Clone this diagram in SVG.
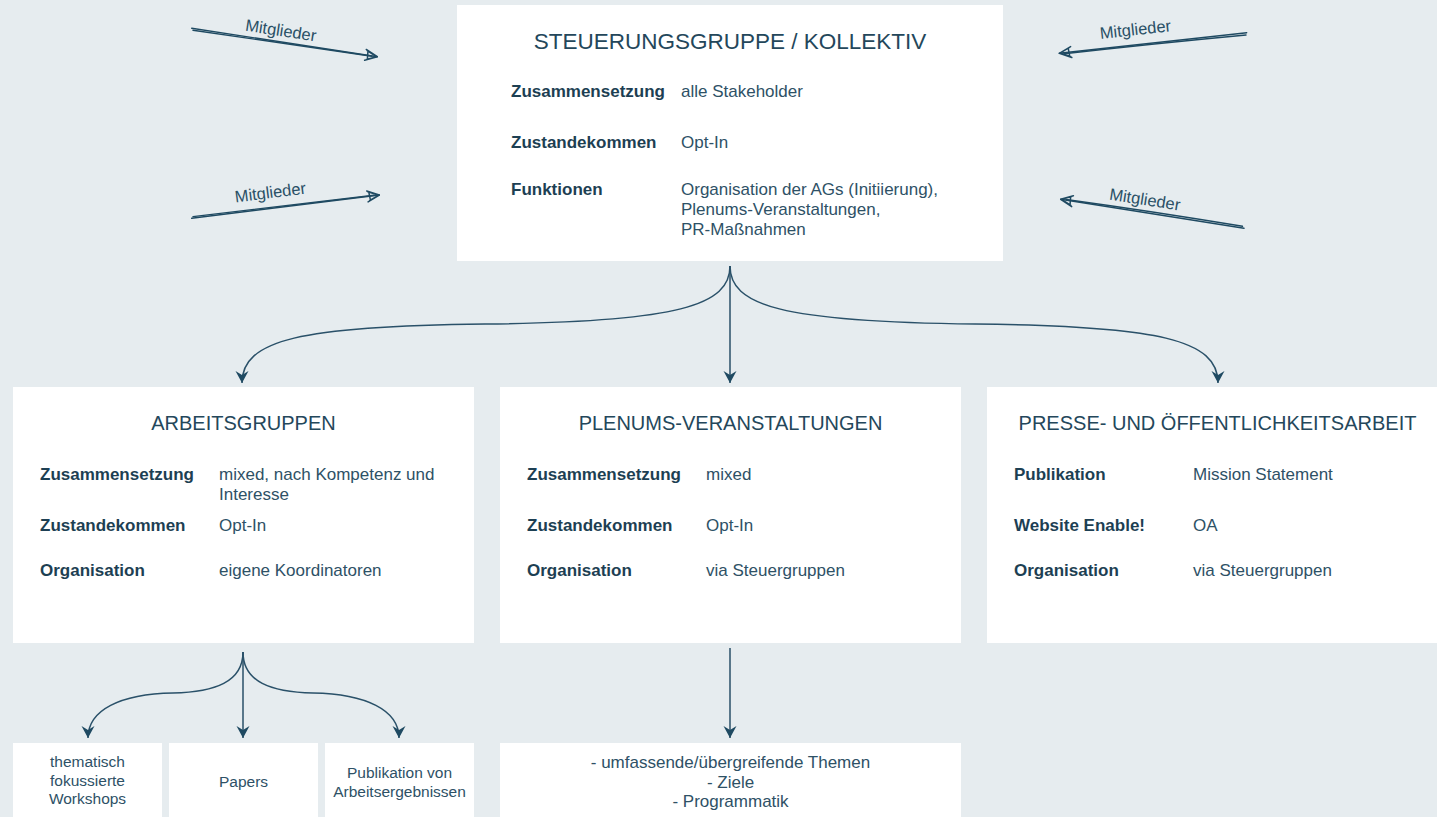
<svg xmlns="http://www.w3.org/2000/svg" width="1437" height="817" viewBox="0 0 1437 817">
<style>
text{font-family:"Liberation Sans",Arial,sans-serif;}
.box{fill:#ffffff;}
.title{font-size:20px;fill:#24475b;text-anchor:middle;}
.ttl-big{font-size:22.5px;fill:#24475b;text-anchor:middle;}
.lab{font-size:17px;font-weight:bold;fill:#1d3f53;}
.val{font-size:17px;fill:#2e5166;}
.small{font-size:15.5px;fill:#2e5166;text-anchor:middle;}
.mid{font-size:17px;fill:#2e5166;text-anchor:middle;}
.conn{fill:none;stroke:#2a5169;stroke-width:1.5;}
.sk{fill:none;stroke:#1f4a62;stroke-width:1.4;stroke-linecap:round;}
.mg{font-size:16.5px;fill:#2a5066;}
</style>
<defs>
<marker id="ah" markerUnits="userSpaceOnUse" markerWidth="14" markerHeight="14" refX="12" refY="6.5" orient="auto">
<path d="M0,0 L12,6.5 L0,13 L4,6.5 z" fill="#1f4a62"/>
</marker>
<marker id="open" markerUnits="userSpaceOnUse" markerWidth="16" markerHeight="16" refX="13" refY="7" orient="auto" overflow="visible">
<path d="M1,1.5 L13,7 L1,12.5 M2,2.5 L12.5,7.2 L2.5,11.5 M3,4 L3.5,10" fill="none" stroke="#1f4a62" stroke-width="1.5" stroke-linecap="round" stroke-linejoin="round"/>
</marker>
</defs>
<rect width="1437" height="817" fill="#e6ecef"/>

<g id="steuerungsgruppe">
<rect class="box" x="457" y="5" width="546" height="256"/>
<text class="ttl-big" x="730" y="49">STEUERUNGSGRUPPE / KOLLEKTIV</text>
<text class="lab" x="511" y="97">Zusammensetzung</text>
<text class="val" x="681" y="97">alle Stakeholder</text>
<text class="lab" x="511" y="148">Zustandekommen</text>
<text class="val" x="681" y="148">Opt-In</text>
<text class="lab" x="511" y="195">Funktionen</text>
<text class="val" x="681" y="195">Organisation der AGs (Initiierung),</text>
<text class="val" x="681" y="215">Plenums-Veranstaltungen,</text>
<text class="val" x="681" y="235">PR-Maßnahmen</text>
</g>

<g id="arbeitsgruppen">
<rect class="box" x="13" y="387" width="461" height="256"/>
<text class="title" x="243.5" y="430">ARBEITSGRUPPEN</text>
<text class="lab" x="40" y="480">Zusammensetzung</text>
<text class="val" x="219" y="480">mixed, nach Kompetenz und</text>
<text class="val" x="219" y="500">Interesse</text>
<text class="lab" x="40" y="531">Zustandekommen</text>
<text class="val" x="219" y="531">Opt-In</text>
<text class="lab" x="40" y="576">Organisation</text>
<text class="val" x="219" y="576">eigene Koordinatoren</text>
</g>

<g id="plenums">
<rect class="box" x="500" y="387" width="461" height="256"/>
<text class="title" x="730.5" y="430">PLENUMS-VERANSTALTUNGEN</text>
<text class="lab" x="527" y="480">Zusammensetzung</text>
<text class="val" x="706" y="480">mixed</text>
<text class="lab" x="527" y="531">Zustandekommen</text>
<text class="val" x="706" y="531">Opt-In</text>
<text class="lab" x="527" y="576">Organisation</text>
<text class="val" x="706" y="576">via Steuergruppen</text>
</g>

<g id="presse">
<rect class="box" x="987" y="387" width="461" height="256"/>
<text class="title" x="1217.5" y="430">PRESSE- UND ÖFFENTLICHKEITSARBEIT</text>
<text class="lab" x="1014" y="480">Publikation</text>
<text class="val" x="1193" y="480">Mission Statement</text>
<text class="lab" x="1014" y="531">Website Enable!</text>
<text class="val" x="1193" y="531">OA</text>
<text class="lab" x="1014" y="576">Organisation</text>
<text class="val" x="1193" y="576">via Steuergruppen</text>
</g>

<g id="workshops">
<rect class="box" x="13" y="743" width="149" height="80"/>
<text class="small" x="87.5" y="767">thematisch</text>
<text class="small" x="87.5" y="786">fokussierte</text>
<text class="small" x="87.5" y="804">Workshops</text>
</g>
<g id="papers">
<rect class="box" x="169" y="743" width="149" height="80"/>
<text class="small" x="243.5" y="787">Papers</text>
</g>
<g id="publikation">
<rect class="box" x="325" y="743" width="149" height="80"/>
<text class="small" x="399.5" y="778">Publikation von</text>
<text class="small" x="399.5" y="797">Arbeitsergebnissen</text>
</g>
<g id="themen">
<rect class="box" x="500" y="743" width="461" height="80"/>
<text class="mid" x="730.5" y="768">- umfassende/übergreifende Themen</text>
<text class="mid" x="730.5" y="788">- Ziele</text>
<text class="mid" x="730.5" y="807">- Programmatik</text>
</g>

<g id="connectors">
<path class="conn" d="M730,266 C730,305 680,322 485,324 C300,326 242,340 242,383" marker-end="url(#ah)"/>
<path class="conn" d="M730,266 V383" marker-end="url(#ah)"/>
<path class="conn" d="M730,266 C730,305 780,322 975,324 C1160,326 1218,340 1218,383" marker-end="url(#ah)"/>
<path class="conn" d="M243,652 C243,682 215,692 173,693 C120,694 88,710 88,738" marker-end="url(#ah)"/>
<path class="conn" d="M243,652 V738" marker-end="url(#ah)"/>
<path class="conn" d="M243,652 C243,682 271,692 313,693 C366,694 399,710 399,738" marker-end="url(#ah)"/>
<path class="conn" d="M730,648 V738" marker-end="url(#ah)"/>

<path class="sk" d="M191.7,28.3 L377.3,56.7" marker-end="url(#open)"/>
<path class="sk" d="M193,30.2 Q290,44 372,56.2"/>
<path class="sk" d="M191.7,218.3 L379.3,195" marker-end="url(#open)"/>
<path class="sk" d="M193,216.6 Q290,205 374,195.2"/>
<path class="sk" d="M1246.7,32.7 L1059.3,53.3" marker-end="url(#open)"/>
<path class="sk" d="M1246,35 Q1150,44 1064,53.8"/>
<path class="sk" d="M1244,228.3 L1060.7,199.3" marker-end="url(#open)"/>
<path class="sk" d="M1242.5,226.3 Q1150,211 1066,199.5"/>
</g>

<g id="labels">
<text class="mg" x="280" y="36" text-anchor="middle" transform="rotate(8.7 280 36)">Mitglieder</text>
<text class="mg" x="271" y="198" text-anchor="middle" transform="rotate(-7.1 271 198)">Mitglieder</text>
<text class="mg" x="1136" y="35" text-anchor="middle" transform="rotate(-6.3 1136 35)">Mitglieder</text>
<text class="mg" x="1144" y="205" text-anchor="middle" transform="rotate(9 1144 205)">Mitglieder</text>
</g>
</svg>
